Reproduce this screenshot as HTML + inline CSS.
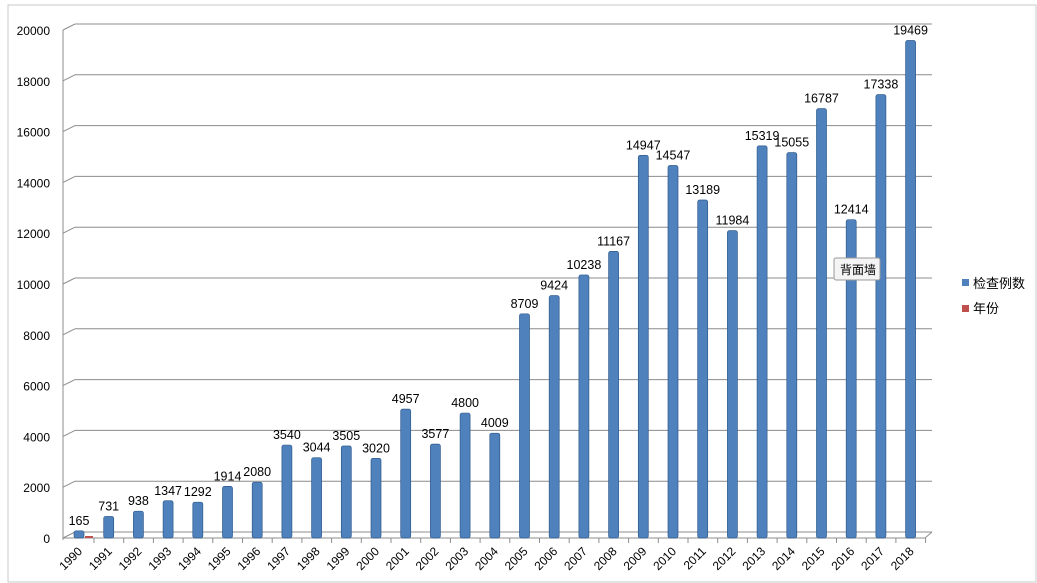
<!DOCTYPE html>
<html><head><meta charset="utf-8"><style>
html,body{margin:0;padding:0;background:#fff;width:1037px;height:583px;overflow:hidden}
svg text{font-family:"Liberation Sans","Noto Sans CJK SC",sans-serif}
</style></head><body>
<svg width="1037" height="583">
<rect x="8" y="5" width="1028" height="577" fill="#fff" stroke="#c8c8c8"/>
<g id="grid"></g><g id="bars"></g><g id="labels"></g>
<g>
<rect x="962" y="279" width="7" height="7" fill="#4f81bd"/>
<text x="973" y="288" font-size="13">检查例数</text>
<rect x="962" y="305" width="7" height="7" fill="#c0504d"/>
<text x="973" y="313" font-size="13">年份</text>
</g>
<g>
<rect x="834" y="258" width="46" height="22" fill="#f4f4f4" stroke="#999" rx="2"/>
<text x="840" y="274" font-size="12">背面墙</text>
</g>
</svg>
<script>
const years=["1990","1991","1992","1993","1994","1995","1996","1997","1998","1999","2000","2001","2002","2003","2004","2005","2006","2007","2008","2009","2010","2011","2012","2013","2014","2015","2016","2017","2018"];
const cases=[165,731,938,1347,1292,1914,2080,3540,3044,3505,3020,4957,3577,4800,4009,8709,9424,10238,11167,14947,14547,13189,11984,15319,15055,16787,12414,17338,19469];
const yTicks=[0,2000,4000,6000,8000,10000,12000,14000,16000,18000,20000];
const NS="http://www.w3.org/2000/svg";
const y0=538,yScale=(538-30)/20000;
const yPos=v=>y0-v*yScale;
const xPos=i=>79+i*29.7;
function mk(tag,attrs,parent,txt){const e=document.createElementNS(NS,tag);for(const k in attrs)e.setAttribute(k,attrs[k]);if(txt!==undefined)e.textContent=txt;document.getElementById(parent)?document.getElementById(parent).appendChild(e):parent.appendChild(e);return e;}
const grid=document.getElementById('grid');
yTicks.forEach(t=>{
  const y=yPos(t);
  const l=mk('line',{x1:75,x2:932,y1:y-6,y2:y-6,stroke:'#8c8c8c','stroke-width':1},grid);
  
  
  const d=mk('line',{x1:63,x2:75,y1:y,y2:y-6,stroke:'#8c8c8c'},grid);
  
  
  const tx=mk('text',{x:50,y:y+5,'font-size':12,'text-anchor':'end',fill:'#000'},grid,String(t));
  
  
});
const ax=mk('line',{x1:63,x2:63,y1:yPos(20000),y2:y0+2,stroke:'#8c8c8c'},grid);


const fl=mk('path',{d:`M63 ${y0} L925 ${y0} L932 ${y0-6}`,stroke:'#8c8c8c',fill:'none'},grid);


const bars=document.getElementById('bars');
cases.forEach((v,i)=>{
  const x=xPos(i),y=yPos(v)-3;
  const r=mk('rect',{x:x-5,y:y,width:10,height:y0-y,fill:'#4f81bd',stroke:'#2f5a8c','stroke-width':0.7,rx:2},bars);
  
  
  const lb=mk('text',{x:x,y:y-6,'font-size':12.5,'text-anchor':'middle'},bars,String(v));
  
  
  const tk=mk('line',{x1:x+15,x2:x+15,y1:y0,y2:y0+5,stroke:'#8c8c8c'},bars);
  
  
  const xl=mk('text',{x:x+4,y:y0+14,'font-size':12,'text-anchor':'end',transform:`rotate(-45 ${x+4} ${y0+14})`},bars,years[i]);
  
  
});
const yb=mk('rect',{x:xPos(0)+6,y:y0-2,width:8,height:2,fill:'#c0504d'},bars);


</script>
</body></html>
